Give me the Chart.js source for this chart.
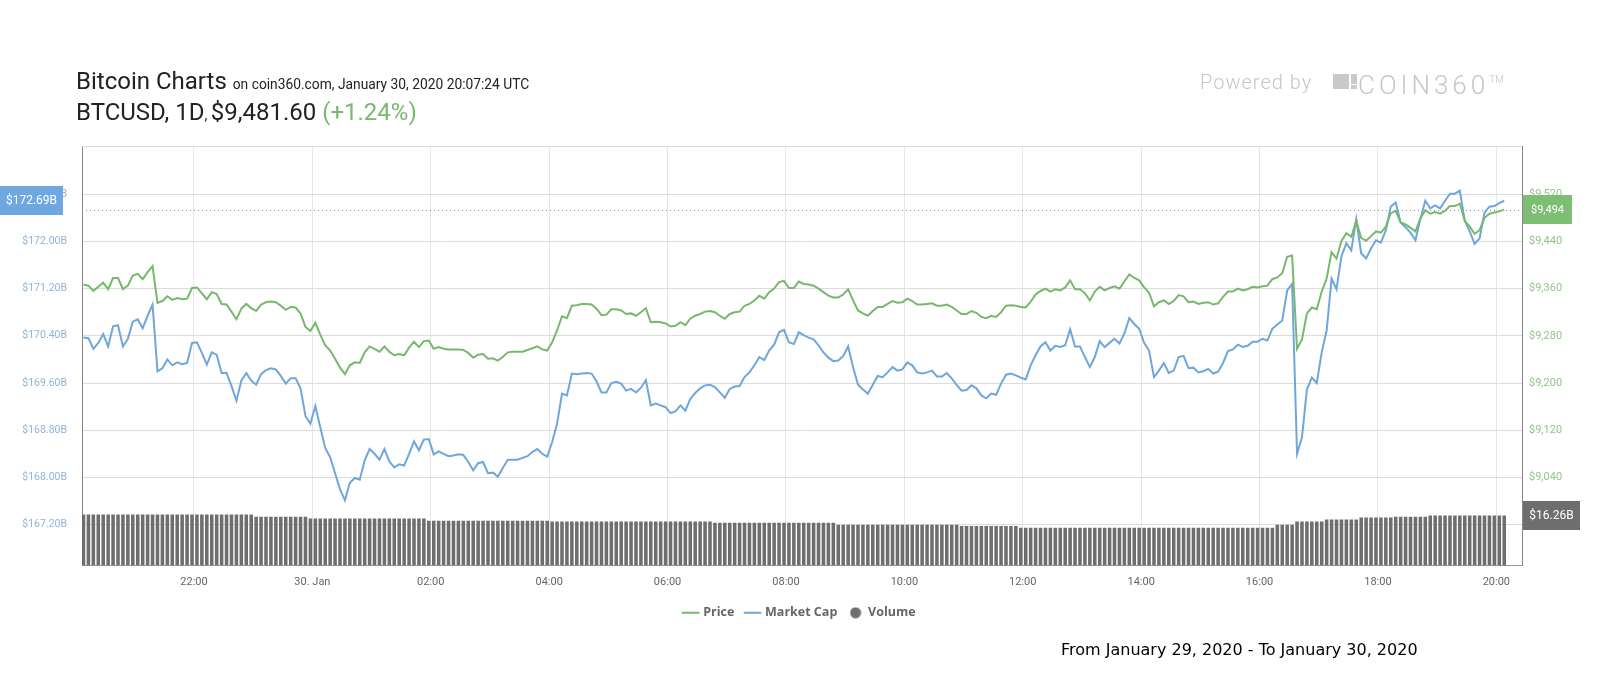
<!DOCTYPE html>
<html>
<head>
<meta charset="utf-8">
<title>Bitcoin Charts</title>
<script src="https://cdn.jsdelivr.net/npm/chart.js@4.4.1/dist/chart.umd.min.js"></script>
<style>
  body { margin: 0; background: #fff; }
  #wrap { position: relative; width: 1600px; height: 700px; overflow: hidden; font-family: Roboto, sans-serif; }
  #wrap canvas { position: absolute; left: 0; top: 0; }
  .txt { position: absolute; white-space: nowrap; }
  #t1 { left: 76px; top: 69px; font-size: 24px; line-height: 24px; color: #222; }
  #t1 span { font-size: 13.8px; }
  #t2 { left: 76px; top: 100px; font-size: 24px; line-height: 24px; color: #222; }
  #t2 .small { font-size: 14px; }
  #t2 .chg { color: #7ab86e; }
  #powered { left: 1200px; top: 72px; font-size: 20px; line-height: 21px; font-weight: 300; letter-spacing: 1px; color: #c6c6c6; }
  #logo { left: 1358px; top: 67px; font-size: 26px; line-height: 26px; font-weight: 300; letter-spacing: 4px; color: #c6c6c6; }
  #logo sup { font-size: 10px; letter-spacing: 0; vertical-align: 11px; }
  .mark { position: absolute; background: #c9c9c9; }
  #footer { left: 1061px; top: 642px; font-family: "DejaVu Sans", sans-serif; font-size: 16px; line-height: 16px; color: #000; }
</style>
</head>
<body>
<div id="wrap">
  <canvas id="btc" width="1600" height="700"></canvas>
  <div class="txt" id="t1">Bitcoin Charts <span>on coin360.com, January 30, 2020 20:07:24 UTC</span></div>
  <div class="txt" id="t2">BTCUSD, 1D<span class="small">, </span>$9,481.60 <span class="chg">(+1.24%)</span></div>
  <div class="txt" id="powered">Powered by</div>
  <div class="mark" style="left:1333px;top:74px;width:16px;height:15px"></div>
  <div class="mark" style="left:1351px;top:74px;width:6px;height:10px"></div>
  <div class="mark" style="left:1351px;top:85px;width:6px;height:4px"></div>
  <div class="txt" id="logo">COIN360<sup>TM</sup></div>
  <div class="txt" id="footer">From January 29, 2020 - To January 30, 2020</div>
</div>
<script>
// 5-minute samples, first one at 20:08 UTC on Jan 29 (x values are minutes since Jan 29 00:00)
const startMinute = 20 * 60 + 8;

const price = [
  9367, 9365, 9356, 9363, 9370, 9359, 9378, 9378, 9359, 9365,
  9382, 9385, 9376, 9388, 9398, 9336, 9339, 9347, 9341, 9344,
  9342, 9343, 9361, 9362, 9352, 9342, 9354, 9351, 9334, 9333,
  9321, 9308, 9326, 9334, 9327, 9322, 9333, 9337, 9338, 9337,
  9331, 9324, 9329, 9328, 9318, 9295, 9288, 9302, 9282, 9264,
  9255, 9241, 9226, 9215, 9230, 9235, 9234, 9252, 9262, 9258,
  9253, 9262, 9253, 9247, 9249, 9247, 9260, 9270, 9261, 9271,
  9272, 9258, 9261, 9258, 9257, 9257, 9257, 9256, 9251, 9243,
  9248, 9249, 9241, 9242, 9238, 9244, 9252, 9253, 9253, 9253,
  9256, 9259, 9262, 9257, 9255, 9269, 9289, 9313, 9310, 9331,
  9332, 9334, 9334, 9333, 9326, 9315, 9316, 9325, 9325, 9323,
  9317, 9318, 9314, 9320, 9327, 9303, 9304, 9303, 9301, 9296,
  9297, 9303, 9298, 9309, 9314, 9317, 9321, 9322, 9320, 9314,
  9309, 9317, 9320, 9321, 9331, 9334, 9340, 9348, 9343, 9354,
  9360, 9371, 9373, 9361, 9361, 9372, 9368, 9367, 9365, 9360,
  9354, 9348, 9345, 9345, 9350, 9359, 9340, 9323, 9318, 9314,
  9322, 9329, 9329, 9334, 9339, 9336, 9337, 9343, 9339, 9333,
  9333, 9334, 9335, 9331, 9331, 9333, 9329, 9323, 9317, 9317,
  9322, 9319, 9312, 9310, 9314, 9312, 9320, 9331, 9332, 9331,
  9329, 9328, 9338, 9350, 9356, 9360, 9355, 9359, 9357, 9362,
  9374, 9359, 9359, 9352, 9340, 9355, 9363, 9357, 9361, 9364,
  9360, 9372, 9384, 9378, 9374, 9362, 9353, 9330, 9337, 9340,
  9334, 9339, 9349, 9347, 9337, 9338, 9334, 9336, 9337, 9333,
  9335, 9346, 9355, 9355, 9360, 9357, 9359, 9363, 9362, 9364,
  9365, 9376, 9379, 9386, 9414, 9416, 9258, 9274, 9318, 9328,
  9325, 9355, 9377, 9422, 9411, 9441, 9454, 9448, 9475, 9446,
  9441, 9449, 9457, 9455, 9465, 9488, 9492, 9472, 9469, 9463,
  9457, 9479, 9493, 9487, 9490, 9487, 9492, 9500, 9500, 9504,
  9475, 9465, 9453, 9459, 9480, 9487, 9489, 9491, 9494
];

// market cap, billions USD
const marketCap = [
  170.37, 170.36, 170.18, 170.28, 170.43, 170.22, 170.56, 170.58, 170.22, 170.35,
  170.64, 170.68, 170.53, 170.74, 170.93, 169.80, 169.85, 170.00, 169.90, 169.95,
  169.92, 169.94, 170.28, 170.29, 170.11, 169.91, 170.12, 170.08, 169.77, 169.77,
  169.55, 169.30, 169.64, 169.77, 169.64, 169.57, 169.75, 169.82, 169.85, 169.83,
  169.72, 169.59, 169.68, 169.68, 169.51, 169.04, 168.91, 169.21, 168.85, 168.50,
  168.34, 168.07, 167.80, 167.61, 167.91, 167.99, 167.96, 168.29, 168.48, 168.40,
  168.30, 168.48, 168.27, 168.17, 168.22, 168.20, 168.40, 168.61, 168.46, 168.64,
  168.65, 168.39, 168.44, 168.40, 168.36, 168.37, 168.39, 168.38, 168.26, 168.12,
  168.24, 168.26, 168.07, 168.08, 168.01, 168.16, 168.30, 168.30, 168.30, 168.33,
  168.36, 168.43, 168.48, 168.40, 168.35, 168.60, 168.91, 169.42, 169.39, 169.76,
  169.75, 169.76, 169.77, 169.76, 169.63, 169.44, 169.44, 169.60, 169.62, 169.59,
  169.47, 169.50, 169.44, 169.52, 169.65, 169.22, 169.25, 169.22, 169.19, 169.09,
  169.12, 169.22, 169.13, 169.33, 169.43, 169.51, 169.56, 169.57, 169.53, 169.44,
  169.35, 169.50, 169.54, 169.55, 169.70, 169.78, 169.90, 170.04, 169.99, 170.15,
  170.25, 170.46, 170.50, 170.29, 170.26, 170.46, 170.41, 170.37, 170.34, 170.24,
  170.12, 170.03, 169.97, 169.98, 170.06, 170.22, 169.87, 169.57, 169.49, 169.42,
  169.57, 169.72, 169.70, 169.78, 169.87, 169.81, 169.83, 169.95, 169.90, 169.78,
  169.76, 169.78, 169.81, 169.71, 169.71, 169.77, 169.68, 169.57, 169.47, 169.48,
  169.56, 169.51, 169.39, 169.34, 169.42, 169.40, 169.59, 169.74, 169.76, 169.73,
  169.69, 169.66, 169.90, 170.07, 170.22, 170.29, 170.15, 170.23, 170.21, 170.24,
  170.51, 170.22, 170.22, 170.04, 169.87, 170.04, 170.31, 170.21, 170.28, 170.35,
  170.27, 170.44, 170.70, 170.60, 170.52, 170.28, 170.15, 169.70, 169.81, 169.94,
  169.77, 169.81, 170.04, 170.06, 169.85, 169.86, 169.78, 169.80, 169.84, 169.76,
  169.79, 169.94, 170.14, 170.17, 170.25, 170.21, 170.23, 170.30, 170.30, 170.35,
  170.32, 170.52, 170.59, 170.66, 171.17, 171.28, 168.40, 168.68, 169.49, 169.69,
  169.60, 170.12, 170.49, 171.37, 171.19, 171.75, 171.97, 171.85, 172.38, 171.80,
  171.71, 171.88, 172.02, 171.98, 172.19, 172.59, 172.66, 172.32, 172.24, 172.15,
  172.02, 172.38, 172.69, 172.56, 172.61, 172.56, 172.69, 172.81, 172.81, 172.86,
  172.35, 172.17, 171.96, 172.05, 172.49, 172.59, 172.60, 172.65, 172.69
];

// 24h volume, billions USD
const volume = [
  16.6, 16.6, 16.6, 16.6, 16.6, 16.6, 16.6, 16.6, 16.6, 16.6,
  16.6, 16.6, 16.6, 16.6, 16.6, 16.6, 16.6, 16.6, 16.6, 16.6,
  16.6, 16.6, 16.6, 16.6, 16.6, 16.6, 16.6, 16.6, 16.6, 16.6,
  16.6, 16.6, 16.6, 16.6, 16.6, 15.9, 15.9, 15.9, 15.9, 15.9,
  15.9, 15.9, 15.9, 15.9, 15.9, 15.9, 15.3, 15.3, 15.3, 15.3,
  15.3, 15.3, 15.3, 15.3, 15.3, 15.3, 15.3, 15.3, 15.3, 15.3,
  15.3, 15.3, 15.3, 15.3, 15.3, 15.3, 15.3, 15.3, 15.3, 15.3,
  14.6, 14.6, 14.6, 14.6, 14.6, 14.6, 14.6, 14.6, 14.6, 14.6,
  14.6, 14.6, 14.6, 14.6, 14.6, 14.6, 14.6, 14.6, 14.6, 14.6,
  14.6, 14.6, 14.6, 14.6, 14.6, 14.3, 14.3, 14.3, 14.3, 14.3,
  14.3, 14.3, 14.3, 14.3, 14.3, 14.3, 14.3, 14.3, 14.3, 14.3,
  14.3, 14.3, 14.3, 14.3, 14.3, 14.3, 14.3, 14.3, 14.3, 14.3,
  14.3, 14.3, 14.3, 14.3, 14.3, 14.3, 14.3, 14.3, 13.9, 13.9,
  13.9, 13.9, 13.9, 13.9, 13.9, 13.9, 13.9, 13.9, 13.9, 13.9,
  13.9, 13.9, 13.9, 13.9, 13.9, 13.9, 13.9, 13.9, 13.9, 13.9,
  13.9, 13.9, 13.9, 13.3, 13.3, 13.3, 13.3, 13.3, 13.3, 13.3,
  13.3, 13.3, 13.3, 13.3, 13.3, 13.3, 13.3, 13.3, 13.3, 13.3,
  13.3, 13.3, 13.3, 13.3, 13.3, 13.3, 13.3, 13.3, 12.9, 12.9,
  12.9, 12.9, 12.9, 12.9, 12.9, 12.9, 12.9, 12.9, 12.9, 12.9,
  12.3, 12.3, 12.3, 12.3, 12.3, 12.3, 12.3, 12.3, 12.3, 12.3,
  12.3, 12.3, 12.3, 12.3, 12.3, 12.3, 12.3, 12.3, 12.3, 12.3,
  12.3, 12.3, 12.3, 12.3, 12.3, 12.3, 12.3, 12.3, 12.3, 12.3,
  12.3, 12.3, 12.3, 12.3, 12.3, 12.3, 12.3, 12.3, 12.3, 12.3,
  12.3, 12.3, 12.3, 12.3, 12.3, 12.3, 12.3, 12.3, 12.3, 12.3,
  12.3, 12.3, 13.3, 13.3, 13.3, 13.3, 14.3, 14.3, 14.3, 14.3,
  14.3, 14.3, 15.0, 15.0, 15.0, 15.0, 15.0, 15.0, 15.0, 15.6,
  15.6, 15.6, 15.6, 15.6, 15.6, 15.6, 15.9, 15.9, 15.9, 15.9,
  15.9, 15.9, 15.9, 16.26, 16.26, 16.26, 16.26, 16.26, 16.26, 16.26,
  16.26, 16.26, 16.26, 16.26, 16.26, 16.26, 16.26, 16.26, 16.26
];

const xTickValues = [1320, 1440, 1560, 1680, 1800, 1920, 2040, 2160, 2280, 2400, 2520, 2640];
const xTickLabels = ['22:00', '30. Jan', '02:00', '04:00', '06:00', '08:00', '10:00', '12:00', '14:00', '16:00', '18:00', '20:00'];
const capTicks = [167.2, 168.0, 168.8, 169.6, 170.4, 171.2, 172.0, 172.8];
const priceTicks = [8960, 9040, 9120, 9200, 9280, 9360, 9440, 9520];

const times = price.map((p, i) => startMinute + i * 5);
const pts = arr => arr.map((v, i) => ({ x: times[i], y: v }));

// legend marker for the volume dataset
const dot = document.createElement('canvas');
dot.width = 12; dot.height = 12;
const dctx = dot.getContext('2d');
dctx.fillStyle = '#6e6e6e';
dctx.beginPath(); dctx.arc(6, 6, 5.5, 0, Math.PI * 2); dctx.fill();

function tag(ctx, x, yc, w, text, bg, size) {
  ctx.fillStyle = bg;
  ctx.fillRect(x, Math.round(yc - 14.5), w, 29);
  ctx.fillStyle = '#fff';
  ctx.font = size + 'px Roboto';
  ctx.textAlign = 'center';
  ctx.textBaseline = 'middle';
  ctx.fillText(text, x + w / 2, yc + 0.5);
}

const lastTags = {
  id: 'lastTags',
  beforeDatasetsDraw(chart) {
    const { ctx, chartArea: a, scales } = chart;
    ctx.save();
    ctx.strokeStyle = '#d9d9d9';
    ctx.lineWidth = 1;
    ctx.beginPath(); ctx.moveTo(a.left, a.top + 0.5); ctx.lineTo(a.right, a.top + 0.5); ctx.stroke();
    const yp = Math.round(scales.yPrice.getPixelForValue(price[price.length - 1])) + 0.5;
    ctx.strokeStyle = '#8a8a8a';
    ctx.setLineDash([1, 3]);
    ctx.beginPath(); ctx.moveTo(a.left, yp); ctx.lineTo(a.right, yp); ctx.stroke();
    ctx.restore();
  },
  afterDraw(chart) {
    const { ctx, chartArea: a, scales } = chart;
    const lastCap = marketCap[marketCap.length - 1];
    const lastPrice = price[price.length - 1];
    const lastVol = volume[volume.length - 1];
    ctx.save();
    tag(ctx, 0, scales.yCap.getPixelForValue(lastCap), 63, '$' + lastCap.toFixed(2) + 'B', '#6fa8e0', 12);
    tag(ctx, a.right + 1, scales.yPrice.getPixelForValue(lastPrice), 49, '$' + lastPrice.toLocaleString('en-US'), '#7dbd74', 11);
    tag(ctx, a.right + 1, scales.yVol.getPixelForValue(lastVol), 57, '$' + lastVol.toFixed(2) + 'B', '#6e6e6e', 12);
    ctx.restore();
  }
};

new Chart(document.getElementById('btc'), {
  type: 'line',
  data: {
    datasets: [
      {
        label: 'Price',
        data: pts(price),
        yAxisID: 'yPrice',
        borderColor: '#78b86c',
        backgroundColor: '#78b86c',
        borderWidth: 2,
        pointRadius: 0,
        pointStyle: 'line',
        tension: 0
      },
      {
        label: 'Market Cap',
        data: pts(marketCap),
        yAxisID: 'yCap',
        borderColor: '#6fa6dc',
        backgroundColor: '#6fa6dc',
        borderWidth: 2,
        pointRadius: 0,
        pointStyle: 'line',
        tension: 0
      },
      {
        type: 'bar',
        label: 'Volume',
        data: pts(volume),
        yAxisID: 'yVol',
        backgroundColor: '#6e6e6e',
        pointStyle: dot,
        barPercentage: 0.72,
        categoryPercentage: 1
      }
    ]
  },
  options: {
    responsive: false,
    animation: false,
    events: [],
    layout: { padding: { top: 146, left: 0, right: 0, bottom: 71 } },
    scales: {
      x: {
        type: 'linear',
        offset: false,
        min: 1206.5,
        max: 2666,
        afterBuildTicks: s => { s.ticks = xTickValues.map(v => ({ value: v })); },
        afterFit: s => { s.height = 29; },
        ticks: {
          callback: (v, i) => xTickLabels[i],
          color: '#666',
          font: { family: 'Roboto', size: 11 },
          padding: 10,
          maxRotation: 0,
          autoSkip: false
        },
        grid: { color: '#e6e6e6', drawTicks: false, offset: false },
        border: { color: '#999' }
      },
      yCap: {
        position: 'left',
        min: 166.506,
        max: 173.618,
        afterBuildTicks: s => { s.ticks = capTicks.map(v => ({ value: v })); },
        afterFit: s => { s.width = 82; },
        ticks: {
          callback: v => '$' + v.toFixed(2) + 'B',
          color: '#8fb4da',
          font: { family: 'Roboto', size: 10.5 },
          padding: 15
        },
        grid: { color: '#dcdcdc', drawTicks: false },
        border: { color: '#888' }
      },
      yPrice: {
        position: 'right',
        min: 8890.6,
        max: 9601.8,
        afterBuildTicks: s => { s.ticks = priceTicks.map(v => ({ value: v })); },
        afterFit: s => { s.width = 78; },
        ticks: {
          callback: v => '$' + v.toLocaleString('en-US'),
          color: '#93c489',
          font: { family: 'Roboto', size: 11 },
          padding: 7
        },
        grid: { drawOnChartArea: false, drawTicks: false },
        border: { color: '#888' }
      },
      yVol: { display: false, min: 0, max: 136.6 }
    },
    plugins: {
      legend: {
        position: 'bottom',
        labels: {
          usePointStyle: true,
          color: '#666',
          font: { family: 'Open Sans', size: 12.5, weight: 'bold' },
          padding: 12
        }
      },
      tooltip: { enabled: false }
    }
  },
  plugins: [lastTags]
});
</script>
</body>
</html>
